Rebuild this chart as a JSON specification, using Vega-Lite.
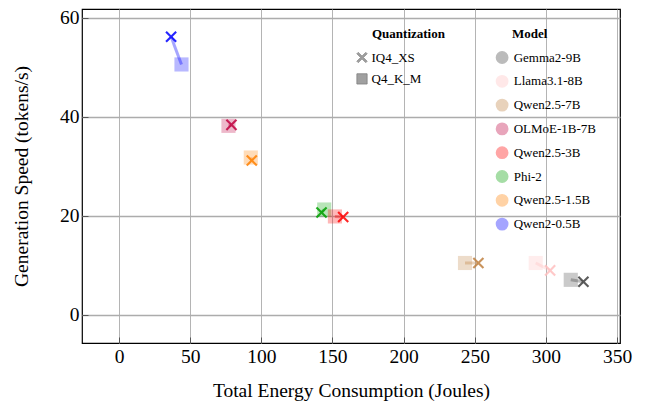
{
  "$schema": "https://vega.github.io/schema/vega-lite/v6.json",
  "width": 538,
  "height": 334,
  "autosize": {"type": "none"},
  "padding": {"left": 82, "top": 9, "right": 37, "bottom": 68},
  "background": "white",
  "config": {
    "font": "Liberation Serif",
    "view": {"stroke": "black", "strokeWidth": 1.2},
    "axis": {
      "labelFont": "Liberation Serif",
      "titleFont": "Liberation Serif",
      "labelFontSize": 19.5,
      "titleFontSize": 19.5,
      "titleFontWeight": "normal",
      "labelColor": "black",
      "titleColor": "black",
      "domain": false,
      "grid": true,
      "gridColor": "#b4b4b4",
      "gridWidth": 1,
      "gridOpacity": 1,
      "tickColor": "#555555",
      "tickSize": -6,
      "tickWidth": 1,
      "zindex": 0
    },
    "legend": {
      "labelFont": "Liberation Serif",
      "titleFont": "Liberation Serif",
      "labelFontSize": 13,
      "titleFontSize": 13,
      "titleFontWeight": "bold",
      "labelColor": "black",
      "titleColor": "black",
      "padding": 0,
      "titlePadding": 10.5
    }
  },
  "data": {
    "values": [
      {"model": "Qwen2-0.5B", "quant": "IQ4_XS", "energy": 36.6, "speed": 56.2},
      {"model": "Qwen2-0.5B", "quant": "Q4_K_M", "energy": 43.9, "speed": 50.6},
      {"model": "OLMoE-1B-7B", "quant": "IQ4_XS", "energy": 79.0, "speed": 38.4},
      {"model": "OLMoE-1B-7B", "quant": "Q4_K_M", "energy": 76.9, "speed": 38.2},
      {"model": "Qwen2.5-1.5B", "quant": "IQ4_XS", "energy": 93.3, "speed": 31.2},
      {"model": "Qwen2.5-1.5B", "quant": "Q4_K_M", "energy": 92.6, "speed": 31.8},
      {"model": "Phi-2", "quant": "IQ4_XS", "energy": 142.3, "speed": 20.7},
      {"model": "Phi-2", "quant": "Q4_K_M", "energy": 144.2, "speed": 21.3},
      {"model": "Qwen2.5-3B", "quant": "IQ4_XS", "energy": 157.5, "speed": 19.8},
      {"model": "Qwen2.5-3B", "quant": "Q4_K_M", "energy": 151.7, "speed": 19.9},
      {"model": "Qwen2.5-7B", "quant": "IQ4_XS", "energy": 252.5, "speed": 10.5},
      {"model": "Qwen2.5-7B", "quant": "Q4_K_M", "energy": 243.1, "speed": 10.5},
      {"model": "Llama3.1-8B", "quant": "IQ4_XS", "energy": 302.9, "speed": 9.0},
      {"model": "Llama3.1-8B", "quant": "Q4_K_M", "energy": 292.8, "speed": 10.5},
      {"model": "Gemma2-9B", "quant": "IQ4_XS", "energy": 326.3, "speed": 6.7},
      {"model": "Gemma2-9B", "quant": "Q4_K_M", "energy": 317.4, "speed": 7.1}
    ]
  },
  "encoding": {
    "x": {
      "field": "energy", "type": "quantitative",
      "scale": {"domain": [-26, 352], "nice": false, "zero": false},
      "axis": {"title": "Total Energy Consumption (Joules)", "values": [0, 50, 100, 150, 200, 250, 300, 350], "labelPadding": 10, "titlePadding": 16}
    },
    "y": {
      "field": "speed", "type": "quantitative",
      "scale": {"domain": [-5.66, 61.8], "nice": false, "zero": false},
      "axis": {"title": "Generation Speed (tokens/s)", "values": [0, 20, 40, 60], "labelPadding": 9, "titlePadding": 28, "grid": true, "gridColor": "#acacac", "gridWidth": 1.3}
    },
    "color": {
      "field": "model", "type": "nominal",
      "scale": {
        "domain": ["Gemma2-9B", "Llama3.1-8B", "Qwen2.5-7B", "OLMoE-1B-7B", "Qwen2.5-3B", "Phi-2", "Qwen2.5-1.5B", "Qwen2-0.5B"],
        "range": ["#404040", "#ffbfbf", "#bf8040", "#bf0040", "#ff0000", "#00a000", "#ff8000", "#0000ff"]
      },
      "legend": {
        "title": "Model",
        "orient": "none",
        "legendX": 430,
        "legendY": 18.5,
        "symbolType": "circle",
        "symbolSize": 128,
        "rowPadding": 4.8,
        "labelOffset": 5.1,
        "symbolOffset": -16.4,
        "encode": {
          "symbols": {
            "update": {
              "fill": {"scale": "color", "field": "value"},
              "stroke": {"scale": "color", "field": "value"},
              "fillOpacity": {"value": 0.6},
              "strokeOpacity": {"value": 1},
              "strokeWidth": {"value": 1.2},
              "opacity": {"value": 1}
            }
          }
        }
      }
    }
  },
  "layer": [
    {
      "mark": {"type": "line", "strokeWidth": 3, "opacity": 0.35},
      "encoding": {"detail": {"field": "model", "type": "nominal"}}
    },
    {
      "transform": [{"filter": "datum.quant == 'Q4_K_M'"}],
      "mark": {"type": "point", "filled": true, "opacity": 0.28, "size": 200},
      "encoding": {
        "shape": {
          "field": "quant", "type": "nominal",
          "scale": {"domain": ["IQ4_XS", "Q4_K_M"], "range": ["M-1,-0.74L-0.74,-1L0,-0.26L0.74,-1L1,-0.74L0.26,0L1,0.74L0.74,1L0,0.26L-0.74,1L-1,0.74L-0.26,0Z", "square"]},
          "legend": {
            "title": "Quantization",
            "orient": "none",
            "legendX": 290,
            "legendY": 18.5,
            "symbolSize": 105,
            "rowPadding": 6.4,
            "labelOffset": 3,
            "symbolOffset": -16.5,
            "symbolFillColor": "#a0a0a0",
            "symbolStrokeColor": "#808080",
            "symbolStrokeWidth": 0.8,
            "symbolOpacity": 1
          }
        }
      }
    },
    {
      "transform": [{"filter": "datum.quant == 'IQ4_XS'"}],
      "mark": {"type": "point", "filled": true, "opacity": 0.85, "size": 135},
      "encoding": {
        "shape": {
          "field": "quant", "type": "nominal",
          "legend": {
            "title": "Quantization",
            "orient": "none",
            "legendX": 290,
            "legendY": 18.5,
            "symbolSize": 105,
            "rowPadding": 6.4,
            "labelOffset": 3,
            "symbolOffset": -16.5,
            "symbolFillColor": "#a0a0a0",
            "symbolStrokeColor": "#808080",
            "symbolStrokeWidth": 0.8,
            "symbolOpacity": 1
          }
        }
      }
    }
  ]
}
